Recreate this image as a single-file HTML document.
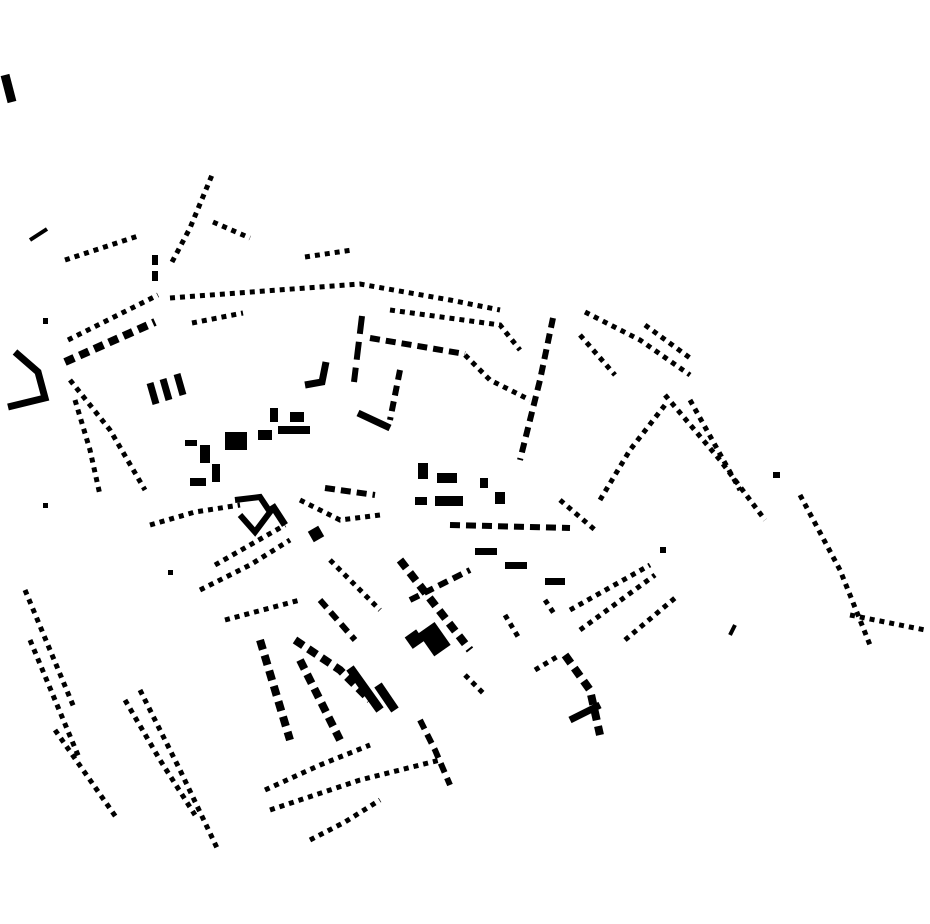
<!DOCTYPE html>
<html><head><meta charset="utf-8"><style>
html,body{margin:0;padding:0;background:#fff;}
svg{display:block}
.d{fill:none;stroke:#000;stroke-width:5;stroke-dasharray:5 5}
.d2{fill:none;stroke:#000;stroke-width:6;stroke-dasharray:10 6}
.s{fill:none;stroke:#000;stroke-width:7}
</style></head><body>
<svg width="930" height="924" viewBox="0 0 930 924" xmlns="http://www.w3.org/2000/svg">
<line x1="5" y1="75" x2="12" y2="102" stroke="#000" stroke-width="9"/>
<line x1="30" y1="240" x2="47" y2="229" class="s" style="stroke-width:4"/>
<polyline class="d" points="172,262 190,228 212,175"/>
<polyline class="d" points="213,222 250,238"/>
<polyline class="d" points="65,260 138,236"/>
<polyline class="d2" points="155,255 155,282"/>
<polyline class="d" points="170,298 360,284 450,300 500,310"/>
<polyline class="d" points="305,257 352,250"/>
<polyline class="d" points="68,340 158,295"/>
<polyline class="d2" points="65,362 155,322" style="stroke-width:8"/>
<polyline class="d" points="192,323 243,313"/>
<polyline class="s" points="15,352 38,372 45,398 8,407"/>
<polyline class="d" points="70,380 110,430 145,490"/>
<polyline class="d" points="75,400 90,450 100,495"/>
<line x1="150" y1="383" x2="156" y2="404" class="s"/>
<line x1="163" y1="379" x2="169" y2="400" class="s"/>
<line x1="177" y1="374" x2="183" y2="395" class="s"/>
<polyline class="d2" points="362,316 354,382" style="stroke-width:6;stroke-dasharray:18 8"/>
<polyline class="d2" points="370,338 465,354"/>
<polyline class="s" points="305,385 322,382 326,362"/>
<line x1="358" y1="413" x2="390" y2="428" class="s"/>
<polyline class="d2" points="400,370 390,420"/>
<polyline class="d" points="390,310 500,325 520,350"/>
<polyline class="d" points="465,355 490,380 530,400"/>
<polyline class="d2" points="553,318 540,380 520,460"/>
<polyline class="d" points="585,312 640,340 690,375"/>
<polyline class="d" points="645,325 690,358"/>
<polyline class="d" points="580,335 615,375"/>
<polyline class="d" points="665,395 720,460 765,520"/>
<polyline class="d" points="690,400 740,490"/>
<polyline class="d" points="600,500 630,450 665,405"/>
<polyline class="d" points="800,495 840,570 870,645"/>
<rect x="773" y="472" width="7" height="6"/>
<polyline class="d" points="850,615 925,630"/>
<rect x="185" y="440" width="12" height="6"/><rect x="200" y="445" width="10" height="18"/>
<rect x="225" y="432" width="22" height="18"/><rect x="258" y="430" width="14" height="10"/>
<rect x="270" y="408" width="8" height="14"/><rect x="290" y="412" width="14" height="10"/>
<rect x="278" y="426" width="32" height="8"/><rect x="190" y="478" width="16" height="8"/>
<rect x="212" y="464" width="8" height="18"/>
<polyline class="s" points="235,500 260,497 270,512 255,532 240,515" style="stroke-width:6"/>
<polyline class="s" points="272,505 285,525"/>
<rect x="418" y="463" width="10" height="16"/><rect x="437" y="473" width="20" height="10"/>
<rect x="415" y="497" width="12" height="8"/><rect x="435" y="496" width="28" height="10"/>
<rect x="480" y="478" width="8" height="10"/><rect x="495" y="492" width="10" height="12"/>
<polyline class="d2" points="450,525 570,528"/>
<rect x="475" y="548" width="22" height="7"/><rect x="505" y="562" width="22" height="7"/>
<rect x="545" y="578" width="20" height="7"/>
<polyline class="d" points="570,610 650,565"/>
<polyline class="d" points="580,630 655,575"/>
<polyline class="d" points="625,640 675,598"/>
<polyline class="d2" points="400,560 470,650" style="stroke-width:8"/>
<polyline class="d2" points="410,600 470,570"/>
<rect x="425" y="625" width="20" height="28" transform="rotate(-35 435 640)"/>
<rect x="408" y="632" width="14" height="14" transform="rotate(-35 415 640)"/>
<polyline class="d" points="25,590 50,650 75,710"/>
<polyline class="d" points="30,640 55,700 80,760"/>
<polyline class="d" points="55,730 90,780 118,820"/>
<polyline class="d" points="140,690 180,770 218,850"/>
<polyline class="d" points="125,700 160,760 195,815"/>
<polyline class="d" points="225,620 300,600"/>
<polyline class="d2" points="260,640 275,690 290,740" style="stroke-width:8"/>
<polyline class="d2" points="295,640 340,670 370,700" style="stroke-width:8"/>
<line x1="350" y1="668" x2="380" y2="710" class="s" style="stroke-width:9"/>
<line x1="378" y1="685" x2="395" y2="710" class="s" style="stroke-width:9"/>
<polyline class="d2" points="300,660 340,740" style="stroke-width:8"/>
<polyline class="d" points="265,790 320,765 370,745"/>
<polyline class="d" points="270,810 360,780 440,760"/>
<polyline class="d" points="310,840 345,822 380,800"/>
<polyline class="d2" points="420,720 435,750 450,785"/>
<polyline class="d2" points="565,655 590,690 600,735" style="stroke-width:8"/>
<line x1="570" y1="720" x2="600" y2="705" class="s"/>
<polyline class="d" points="465,675 485,695"/>
<line x1="730" y1="635" x2="735" y2="625" class="s" style="stroke-width:4"/>
<rect x="43" y="503" width="5" height="5"/><rect x="168" y="570" width="5" height="5"/>
<rect x="43" y="318" width="5" height="6"/>
<polyline class="d" points="150,525 195,512 240,505"/>
<polyline class="d" points="200,590 250,565 290,540"/>
<polyline class="d" points="215,565 250,545 285,525"/>
<polyline class="d2" points="325,488 375,495"/>
<polyline class="d" points="300,500 340,520 380,515"/>
<rect x="310" y="528" width="12" height="12" transform="rotate(-30 316 534)"/>
<polyline class="d" points="330,560 355,585 380,610"/>
<polyline class="d2" points="320,600 355,640"/>
<polyline class="d" points="505,615 520,640"/>
<polyline class="d" points="535,670 560,655"/>
<polyline class="d" points="545,600 555,615"/>
<rect x="660" y="547" width="6" height="6"/>
<polyline class="d" points="560,500 595,530"/>
</svg>
</body></html>
